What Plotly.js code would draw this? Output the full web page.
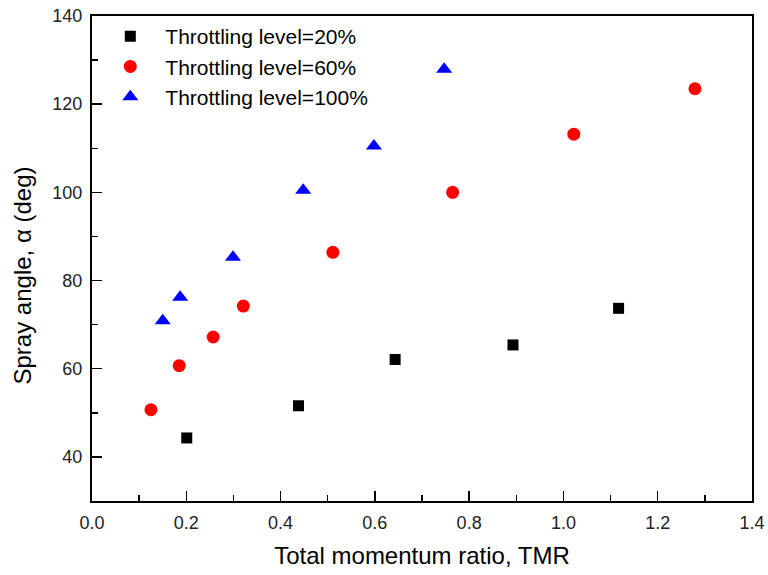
<!DOCTYPE html>
<html>
<head>
<meta charset="utf-8">
<script src="https://cdn.plot.ly/plotly-3.0.1.min.js"></script>
<style>html,body{margin:0;padding:0;background:#fff;}#chart{width:768px;height:575px;}</style>
</head>
<body>
<div id="chart"></div>
<script>
const seriesNames = ["Throttling level=20%", "Throttling level=60%", "Throttling level=100%"];
const tmr20 = [0.201, 0.438, 0.643, 0.893, 1.117];
const angle20 = [44.3, 51.6, 62.1, 65.4, 73.7];
const tmr60 = [0.125, 0.185, 0.257, 0.321, 0.511, 0.765, 1.022, 1.279];
const angle60 = [50.7, 60.7, 67.2, 74.2, 86.4, 100.0, 113.2, 123.5];
const tmr100 = [0.150, 0.187, 0.299, 0.448, 0.598, 0.747];
const angle100 = [70.9, 76.2, 85.3, 100.5, 110.5, 127.9];
const xTitle = "Total momentum ratio, TMR";
const yTitle = "Spray angle, α (deg)";

const font = "Liberation Sans, Arial, sans-serif";
const traces = [
  {x: tmr20, y: angle20, name: seriesNames[0], type: "scatter", mode: "markers",
   marker: {symbol: "square", size: 11, color: "#000000"}},
  {x: tmr60, y: angle60, name: seriesNames[1], type: "scatter", mode: "markers",
   marker: {symbol: "circle", size: 13, color: "#ff0000"}},
  {x: tmr100, y: angle100, name: seriesNames[2], type: "scatter", mode: "markers",
   marker: {symbol: "triangle-up", size: 14, color: "#0000ff"}}
];
const layout = {
  width: 768, height: 575,
  margin: {l: 92, r: 16, t: 16, b: 74},
  paper_bgcolor: "#fff", plot_bgcolor: "#fff",
  font: {family: font, size: 18, color: "#000"},
  showlegend: true,
  legend: {x: 0.005, y: 1.0, xanchor: "left", yanchor: "top", bgcolor: "rgba(0,0,0,0)",
           font: {family: font, size: 21, color: "#000"}, tracegroupgap: 0, itemwidth: 60},
  xaxis: {
    range: [0, 1.4], dtick: 0.2, tick0: 0, tickformat: ".1f",
    showgrid: false, zeroline: false,
    showline: true, linecolor: "#000", linewidth: 2, mirror: true,
    ticks: "inside", ticklen: 10, tickwidth: 1.5, tickcolor: "#000",
    minor: {dtick: 0.1, ticks: "inside", ticklen: 6, tickwidth: 1.5, tickcolor: "#000", showgrid: false},
    tickfont: {family: font, size: 18, color: "#222"},
    ticklabelstandoff: 4,
    title: {text: xTitle, font: {family: font, size: 24, color: "#000"}, standoff: 16}
  },
  yaxis: {
    range: [30, 140], dtick: 20, tick0: 0,
    showgrid: false, zeroline: false,
    showline: true, linecolor: "#000", linewidth: 2, mirror: true,
    ticks: "inside", ticklen: 10, tickwidth: 1.5, tickcolor: "#000",
    minor: {dtick: 10, ticks: "inside", ticklen: 6, tickwidth: 1.5, tickcolor: "#000", showgrid: false},
    tickfont: {family: font, size: 18, color: "#222"},
    ticklabelstandoff: 4
  },
  annotations: [{
    text: yTitle, xref: "paper", yref: "paper", x: -0.106, y: 0.465,
    xanchor: "center", yanchor: "middle", textangle: -90, showarrow: false,
    font: {family: font, size: 24, color: "#000"}
  }]
};
Plotly.newPlot("chart", traces, layout, {displayModeBar: false, staticPlot: true});
</script>
</body>
</html>
